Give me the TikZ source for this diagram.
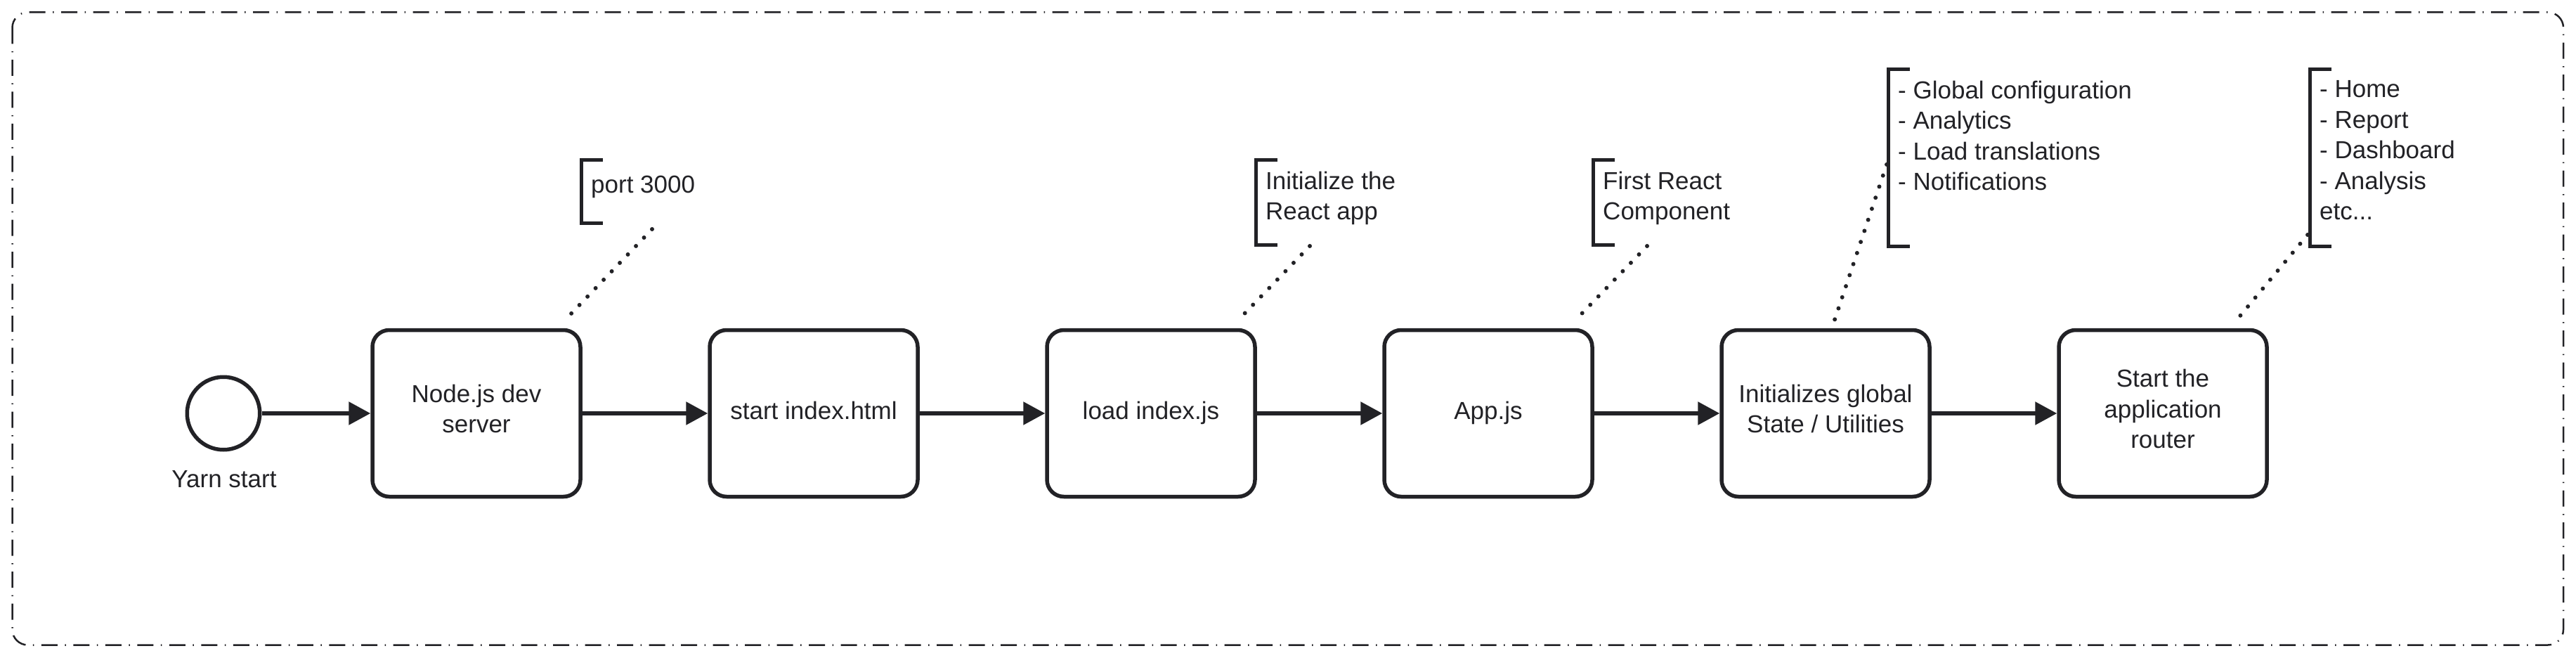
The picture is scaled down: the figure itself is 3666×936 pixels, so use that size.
\documentclass[tikz,border=0pt]{standalone}
\usepackage{fontspec}
\setmainfont{Liberation Sans}
\usetikzlibrary{arrows.meta,calc}
\definecolor{ink}{HTML}{222226}
\begin{document}
\begin{tikzpicture}[x=1pt,y=-1pt,font=\fontsize{35}{43.5}\selectfont,text=ink,
  every node/.style={inner sep=0pt},
  task/.style={draw=ink,line width=5.5pt,rounded corners=24pt,minimum width=296pt,minimum height=237pt,align=center,execute at begin node=\strut,execute at end node=\strut},
  event/.style={draw=ink,line width=5.5pt,circle,minimum size=103.5pt},
  note/.style={anchor=north west,align=left,execute at begin node=\strut,execute at end node=\strut},
  caption/.style={execute at begin node=\strut},
  flow/.style={draw=ink,line width=5.5pt,-{Triangle[length=31pt,width=32pt]}},
  bracket/.style={draw=ink,line width=5pt},
  assoc/.style={draw=ink,line width=6pt,line cap=round,dash pattern=on 0pt off 16.6pt},
  frame/.style={draw=ink,line width=2.5pt,rounded corners=22pt,dash pattern=on 23pt off 10.5pt on 1.5pt off 10.5pt}]
\useasboundingbox (0,0) rectangle (3666,936);
\draw [frame] (17.5,17.5) rectangle (3648,917.5);
\node [event] (yarn) at (318,588) {};
\node [caption] (yarnlabel) at (319,685) {Yarn start};
\node [task] (devserver) at (678,588) {Node.js dev\\server};
\node [task] (indexhtml) at (1158,588) {start index.html};
\node [task] (indexjs) at (1638,588) {load index.js};
\node [task] (appjs) at (2118,588) {App.js};
\node [task] (globalstate) at (2598,588) {Initializes global\\State / Utilities};
\node [task] (router) at (3078,588) {Start the\\application\\router};
\draw [flow] (yarn) -- (devserver);
\draw [flow] (devserver) -- (indexhtml);
\draw [flow] (indexhtml) -- (indexjs);
\draw [flow] (indexjs) -- (appjs);
\draw [flow] (appjs) -- (globalstate);
\draw [flow] (globalstate) -- (router);
\draw [bracket] (857.5,227.5) -- (827.5,227.5) -- (827.5,317.5) -- (857.5,317.5);
\node [note] (portnote) at (841,243.5) {port 3000};
\draw [bracket] (1817.5,227.5) -- (1787.5,227.5) -- (1787.5,348.5) -- (1817.5,348.5);
\node [note] (reactnote) at (1801,243.5) {Initialize the\\React app};
\draw [bracket] (2297.5,227.5) -- (2267.5,227.5) -- (2267.5,348.5) -- (2297.5,348.5);
\node [note] (compnote) at (2281,243.5) {First React\\Component};
\draw [bracket] (2717.5,98.5) -- (2687.5,98.5) -- (2687.5,350) -- (2717.5,350);
\node [note] (statenote) at (2701,114.5) {- Global configuration\\- Analytics\\- Load translations\\- Notifications};
\draw [bracket] (3317.5,98.5) -- (3287.5,98.5) -- (3287.5,350) -- (3317.5,350);
\node [note] (routenote) at (3301,114.5) {- Home\\- Report\\- Dashboard\\- Analysis\\etc...};
\coordinate (portlink) at (928,326);
\coordinate (reactlink) at (1864,350);
\coordinate (complink) at (2344,350);
\coordinate (statelink) at (2685,234);
\coordinate (routelink) at (3284,334);
\draw [assoc] (portlink) -- ($(devserver.north east)+(-27,-9)$);
\draw [assoc] (reactlink) -- ($(indexjs.north east)+(-28,-10)$);
\draw [assoc] (complink) -- ($(appjs.north east)+(-28,-10)$);
\draw [assoc] (statelink) -- ($(globalstate.north)+(13,-12)$);
\draw [assoc] (routelink) -- ($(router.north east)+(-47,-10)$);
\end{tikzpicture}
\end{document}
